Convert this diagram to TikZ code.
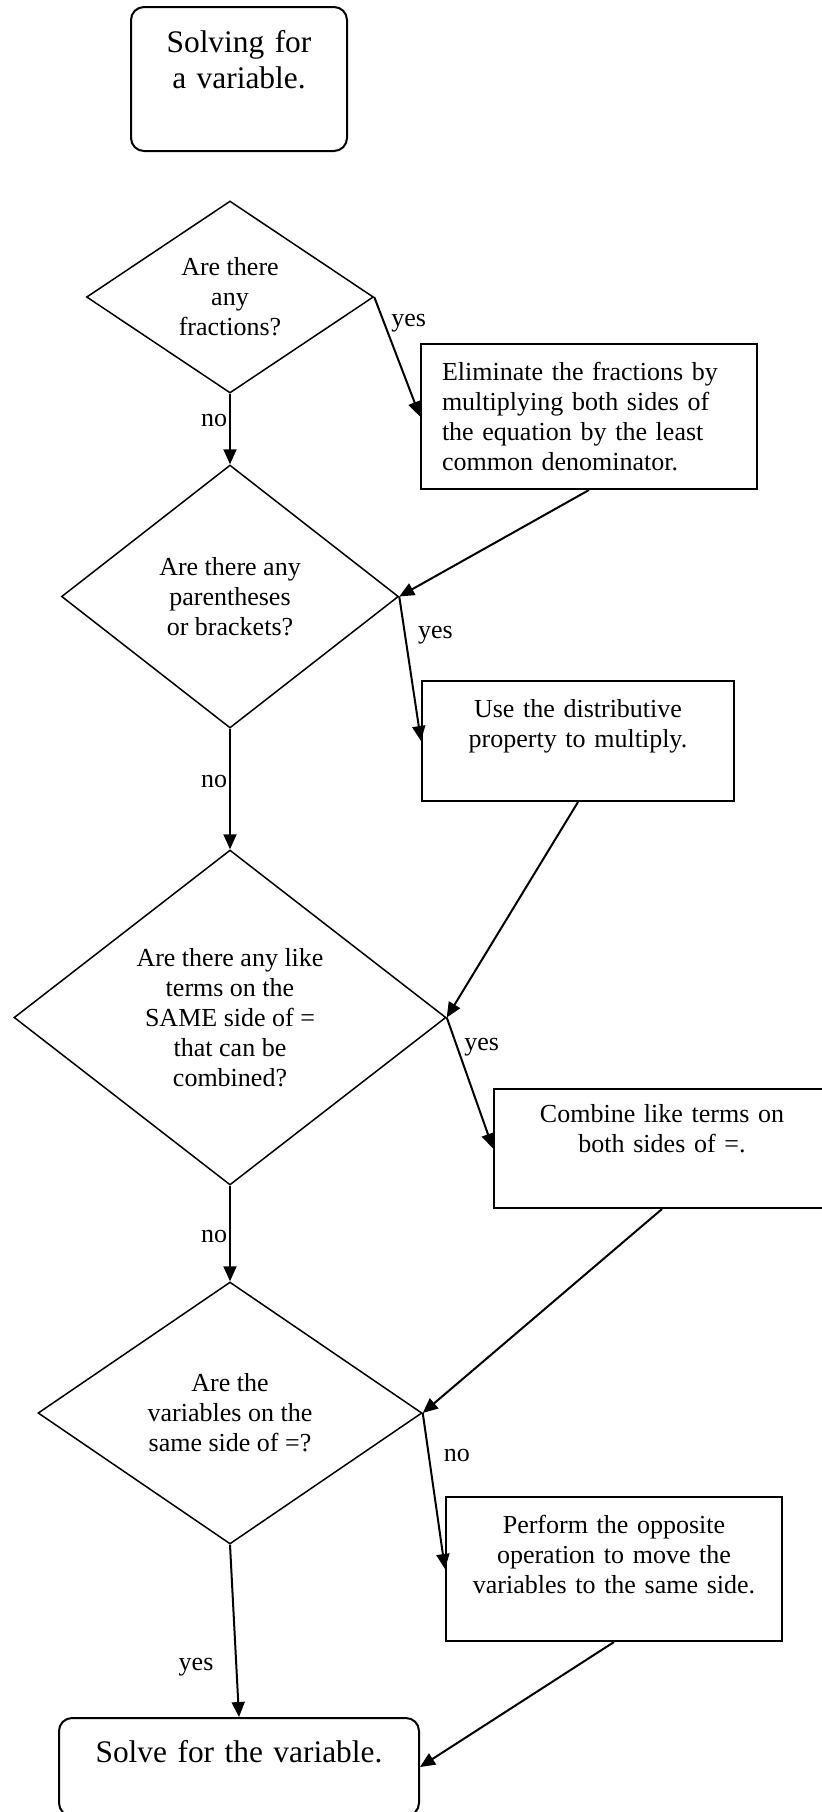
\documentclass[tikz,border=0pt]{standalone}
\usepackage{fontspec}
\setmainfont{Liberation Serif}
\usetikzlibrary{arrows.meta,shapes.geometric}

\begin{document}
\begin{tikzpicture}[x=0.5pt,y=-0.5pt,dec/.style={draw,diamond,line width=.75pt,inner sep=0pt,align=center,font=\fontsize{13pt}{15pt}\selectfont},box/.style={draw,line width=1pt,inner sep=0pt,align=center,text height=18pt,font=\fontsize{13pt}{15pt}\selectfont},term/.style={draw,rounded corners=6.5pt,line width=1pt,inner sep=0pt,align=center,font=\fontsize{15.7pt}{18pt}\selectfont},a/.style={-{Triangle[length=7.5pt,width=6.5pt]},line width=1pt},lbl/.style={inner sep=1pt,font=\fontsize{13pt}{15pt}\selectfont}]
\useasboundingbox (0,0) rectangle (822,1812);
\node[term,text width=108pt,text height=22.5pt,text depth=49.5pt] (start) at (239,79) {Solving for\\a variable.};
\node[dec,minimum width=143.5pt,minimum height=96pt,aspect=1.5] (d1) at (230,297) {Are there\\any\\fractions?};
\node[box,align=left,inner xsep=10.5pt,text width=147pt,text depth=54.5pt] (b1) at (589,416.5) {Eliminate the fractions by\\multiplying both sides of\\the equation by the least\\common denominator.};
\node[dec,minimum width=168.5pt,minimum height=131.5pt,aspect=1.28] (d2) at (230,596.5) {Are there any\\parentheses\\or brackets?};
\node[box,text width=156pt,text depth=42pt] (b2) at (578,741) {Use the distributive\\property to multiply.};
\node[dec,minimum width=216pt,minimum height=167.5pt,aspect=1.29] (d3) at (230,1017.5) {Are there any like\\terms on the\\SAME side of =\\that can be\\combined?};
\node[box,text width=168pt,text height=16.5pt,text depth=43pt] (b3) at (662,1148.5) {Combine like terms on\\both sides of =.};
\node[dec,minimum width=192pt,minimum height=131pt,aspect=1.47] (d4) at (230,1413) {Are the\\variables on the\\same side of =?};
\node[box,text width=168pt,text depth=54pt] (b4) at (614,1569) {Perform the opposite\\operation to move the\\variables to the same side.};
\node[term,text width=180pt,text height=22pt,text depth=27pt] (end) at (239,1767) {Solve for the variable.};
\draw[a] (d1.south)--node[lbl,pos=.38,left]{no}(d2.north); \draw[a] (d1.east)--node[lbl,pos=.22,right=2pt]{yes}(b1.west);
\draw[a] (b1.south)--(d2.east); \draw[a] (d2.east)--node[lbl,pos=.27,right=5pt]{yes}(b2.west);
\draw[a] (d2.south)--node[lbl,pos=.44,left]{no}(d3.north); \draw[a] (b2.south)--(d3.east);
\draw[a] (d3.east)--node[lbl,pos=.23,right=2pt]{yes}(b3.west); \draw[a] (d3.south)--node[lbl,pos=.53,left]{no}(d4.north);
\draw[a] (b3.south)--(d4.east); \draw[a] (d4.east)--node[lbl,pos=.27,right=6pt]{no}(b4.west);
\draw[a] (d4.south)--node[lbl,pos=.71,left=10pt]{yes}(end.north); \draw[a] (b4.south)--(end.east);
\end{tikzpicture}
\end{document}
